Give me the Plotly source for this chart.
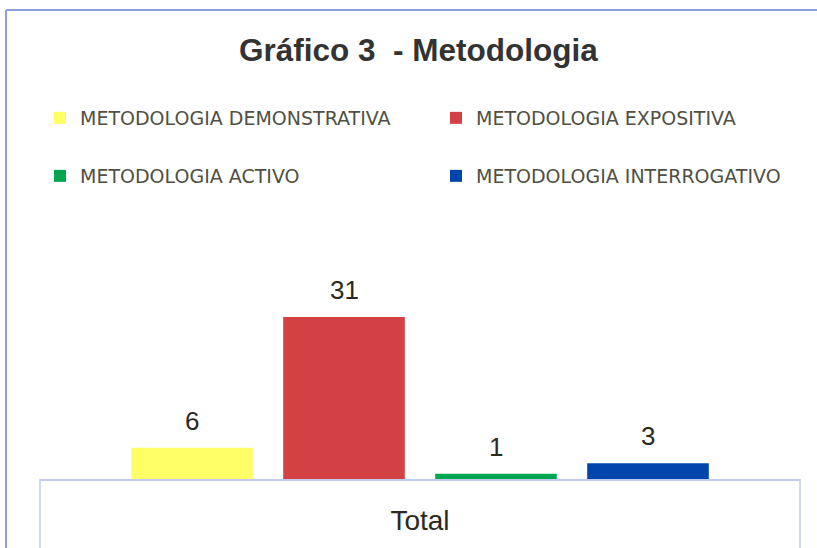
import plotly.graph_objects as go

categories = ["Total"]
series_names = ["METODOLOGIA DEMONSTRATIVA", "METODOLOGIA EXPOSITIVA",
                "METODOLOGIA ACTIVO", "METODOLOGIA INTERROGATIVO"]
series_values = [[6], [31], [1], [3]]
series_colors = ["#FFFF66", "#D24144", "#00A650", "#0045AC"]
legend_ids = ["legend", "legend2", "legend3", "legend4"]

W, H = 817, 548
L, R, T, B = 40, 17, 230, 69
pw, ph = W - L - R, H - T - B
BARGAP = 0.2

def px(xp):
    return (xp - L) / pw

def py(yp):
    return (H - B - yp) / ph

fig = go.Figure()
for name, vals, col, lg in zip(series_names, series_values, series_colors, legend_ids):
    fig.add_trace(go.Bar(
        x=categories, y=vals, name=name, marker=dict(color=col, line=dict(width=0)),
        legend=lg, hoverinfo="x+y+name",
    ))

# value labels above each bar (from the data arrays)
n = len(series_values)
slot_px = pw * (1 - BARGAP) / n
annotations = []
for i, vals in enumerate(series_values):
    for cat, v in zip(categories, vals):
        annotations.append(dict(
            x=cat, y=v, xref="x", yref="y", text=str(v), showarrow=False,
            xanchor="center", yanchor="bottom", yshift=10,
            xshift=(i - (n - 1) / 2) * slot_px,
            font=dict(family="Liberation Sans, Arial", size=26, color="#2a2a1e"),
        ))

legend_font = dict(family="DejaVu Sans", size=19, color="#505044")
legend_pos = {"legend": (40, 118), "legend2": (436, 118),
              "legend3": (40, 176), "legend4": (436, 176)}
for lg, (lx, ly) in legend_pos.items():
    fig.update_layout({lg: dict(orientation="h", xref="container", yref="container",
                                x=lx / W, xanchor="left", y=1 - ly / H,
                                yanchor="middle", font=legend_font,
                                bgcolor="rgba(0,0,0,0)")})

fig.update_layout(
    width=W, height=H,
    margin=dict(l=L, r=R, t=T, b=B, autoexpand=False),
    paper_bgcolor="white", plot_bgcolor="white",
    barmode="group", bargap=BARGAP, bargroupgap=0.2,
    title=dict(text="Gráfico 3 \u00a0- Metodologia", x=0.512, xanchor="center",
               y=1 - 50 / H, yanchor="middle",
               font=dict(family="Liberation Sans, Arial", size=31.5, color="#333333", weight="bold")),
    xaxis=dict(showline=True, linecolor="#c3caf0", linewidth=1.5, showgrid=False,
               automargin=False,
               ticks="outside", ticklen=16, tickcolor="rgba(0,0,0,0)",
               tickfont=dict(family="Liberation Sans, Arial", size=28, color="#2a2a1e")),
    yaxis=dict(visible=False, range=[0, 47.65]),
    showlegend=True,
    annotations=annotations,
)

shapes = [
    dict(type="line", xref="paper", yref="paper", x0=0, x1=0, y0=0, y1=py(H + 5),
         line=dict(color="#c3caf0", width=1.5)),
    dict(type="line", xref="paper", yref="paper", x0=1, x1=1, y0=0, y1=py(H + 5),
         line=dict(color="#c3caf0", width=1.5)),
    dict(type="line", xref="paper", yref="paper", x0=px(6), x1=px(W + 5), y0=py(10), y1=py(10),
         line=dict(color="#8e9ddc", width=2)),
    dict(type="line", xref="paper", yref="paper", x0=px(6), x1=px(6), y0=py(10), y1=py(H + 5),
         line=dict(color="#8e9ddc", width=2)),
]
fig.update_layout(shapes=shapes)

fig.write_html("out.html", config={"displayModeBar": False},
               post_script="document.body.style.margin='0';")
